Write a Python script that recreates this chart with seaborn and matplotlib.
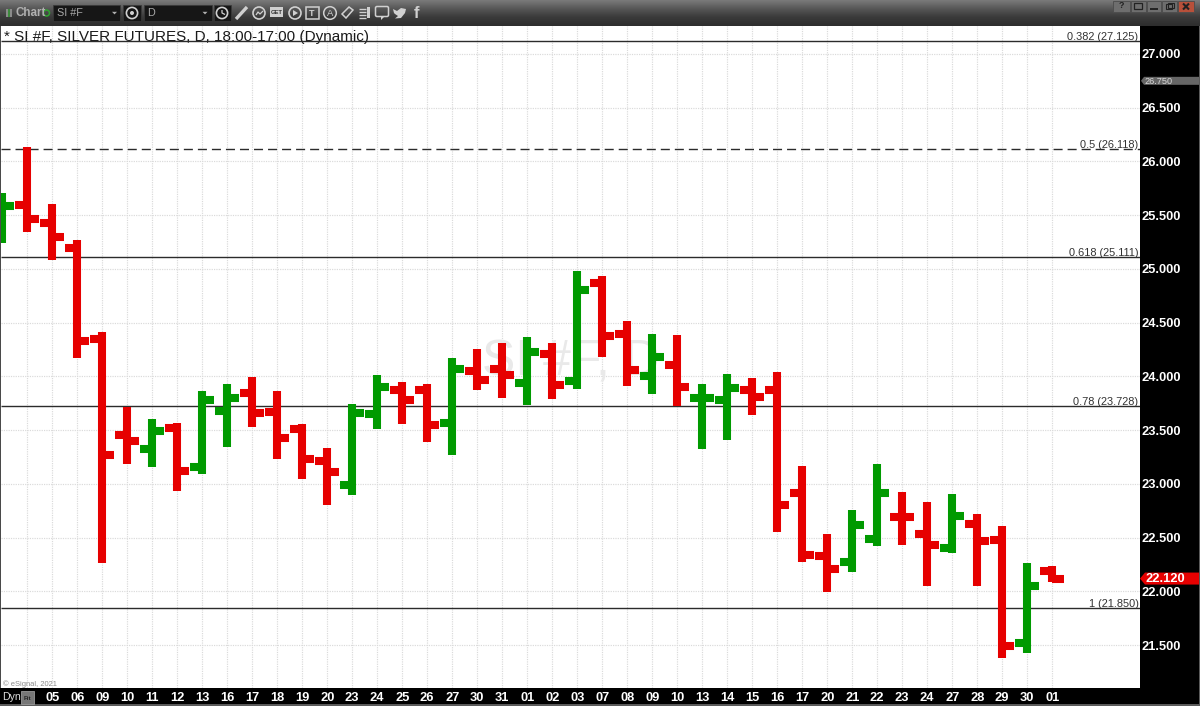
import matplotlib
matplotlib.use("Agg")
import matplotlib.pyplot as plt
from matplotlib.patches import Rectangle, Circle, Polygon, FancyBboxPatch
import numpy as np
import pandas as pd
import seaborn as sns

# daily bars, first two sit left of the first date label
opens = [25.502, 25.595, 25.428, 25.195, 24.349, 23.455, 23.325, 23.521, 23.158, 23.679, 23.846,
         23.669, 23.511, 23.214, 22.990, 23.651, 23.874, 23.874, 23.567, 24.051, 24.069, 23.939,
         24.209, 23.958, 24.869, 24.395, 24.004, 24.107, 23.800, 23.781, 23.874, 23.874, 22.916,
         22.330, 22.274, 22.488, 22.693, 22.535, 22.404, 22.628, 22.479, 21.521, 22.190]
highs = [25.707, 26.135, 25.604, 25.269, 24.414, 23.716, 23.604, 23.567, 23.865, 23.930, 23.995,
         23.865, 23.558, 23.335, 23.744, 24.014, 23.948, 23.930, 24.172, 24.255, 24.311, 24.367,
         24.311, 24.981, 24.935, 24.516, 24.395, 24.386, 23.930, 24.023, 23.986, 24.042, 23.167,
         22.535, 22.758, 23.186, 22.925, 22.832, 22.907, 22.721, 22.609, 22.265, 22.237]
lows = [25.242, 25.344, 25.083, 24.172, 22.265, 23.186, 23.158, 22.935, 23.093, 23.344, 23.530,
        23.232, 23.046, 22.804, 22.897, 23.511, 23.558, 23.390, 23.269, 23.874, 23.800, 23.735,
        23.790, 23.883, 24.181, 23.911, 23.837, 23.725, 23.325, 23.409, 23.642, 22.553, 22.274,
        21.995, 22.181, 22.423, 22.432, 22.051, 22.358, 22.051, 21.381, 21.428, 22.088]
closes = [25.586, 25.465, 25.297, 24.330, 23.269, 23.400, 23.493, 23.121, 23.781, 23.800, 23.660,
          23.428, 23.232, 23.111, 23.660, 23.902, 23.781, 23.548, 24.069, 23.967, 24.014, 24.228,
          23.921, 24.804, 24.376, 24.060, 24.181, 23.902, 23.800, 23.893, 23.809, 22.804, 22.339,
          22.209, 22.618, 22.916, 22.693, 22.432, 22.702, 22.469, 21.493, 22.051, 22.120]
bar_colors = list("grrrrrgrgg" "rrrrgg" "rrgrrgrgrrgr" "ggrrrrg" "grrgrrg" "r")
day_labels = ["", "05", "06", "09", "10", "11", "12", "13", "16", "17", "18", "19", "20", "23", "24",
              "25", "26", "27", "30", "31", "01", "02", "03", "07", "08", "09", "10", "13", "14",
              "15", "16", "17", "20", "21", "22", "23", "24", "27", "28", "29", "30", "01"]

price_ticks = [21.5, 22.0, 22.5, 23.0, 23.5, 24.0, 24.5, 25.0, 25.5, 26.0, 26.5, 27.0]
fib_ratios = ["0.382", "0.5", "0.618", "0.78", "1"]
fib_levels = [27.125, 26.118, 25.111, 23.728, 21.850]
fib_styles = ["-", (0, (6.5, 3.6)), "-", "-", "-"]
last_price = 22.120
alert_price = 26.750

W, H = 1200, 706
RED = "#e60000"
GREEN = "#009a00"

sns.set_style("white")
plt.rcParams["font.family"] = ["Liberation Sans", "DejaVu Sans"]
plt.rcParams["lines.solid_capstyle"] = "butt"

fig = plt.figure(figsize=(W / 100, H / 100), dpi=100, facecolor="black")
ax = fig.add_axes([1 / W, (H - 688) / H, 1139 / W, 662 / H], facecolor="white")


def to_px(v):
    return H - ax.transData.transform((0, v))[1]


# every bar = stem + open tick + close tick, one table for lineplot
rows = []
for i in range(len(opens)):
    rows += [(f"{i}h", i, highs[i], bar_colors[i]), (f"{i}h", i, lows[i], bar_colors[i])]
    rows += [(f"{i}o", i - 0.47, opens[i], bar_colors[i]), (f"{i}o", i, opens[i], bar_colors[i])]
    rows += [(f"{i}c", i, closes[i], bar_colors[i]), (f"{i}c", i + 0.47, closes[i], bar_colors[i])]
df = pd.DataFrame(rows, columns=["seg", "x", "price", "col"])

ax.set_axisbelow(True)
sns.lineplot(data=df, x="x", y="price", hue="col", units="seg", estimator=None, sort=False,
             palette={"r": RED, "g": GREEN}, linewidth=5.8, legend=False, ax=ax, zorder=4)

ax.set_xlim(-0.048, 45.512)
ax.set_ylim(21.102, 27.260)
ax.set_xlabel("")
ax.set_ylabel("")
for s in ax.spines.values():
    s.set_visible(False)

ax.set_xticks(range(1, 43))
ax.set_xticklabels(day_labels)
ax.yaxis.tick_right()
ax.set_yticks(price_ticks)
ax.set_yticklabels([f"{p:.3f}" for p in price_ticks])
ax.tick_params(axis="both", length=0, colors="white", labelsize=9.3)
ax.tick_params(axis="x", pad=3.2)
ax.tick_params(axis="y", pad=1.0)
for lab in ax.get_xticklabels() + ax.get_yticklabels():
    lab.set_fontweight("bold")
ax.grid(True, color="#dadada", linewidth=0.85, linestyle=(0, (1, 1)))

# fib levels
for ratio, level, style in zip(fib_ratios, fib_levels, fib_styles):
    ax.axhline(level, color="#2b2b2b", linewidth=1.0, linestyle=style, zorder=3)
    ax.annotate(f"{ratio} ({level:.3f})", xy=(1, level), xycoords=("axes fraction", "data"),
                xytext=(-1, -1), textcoords="offset points", ha="right", va="bottom",
                fontsize=7.9, color="#333333", zorder=5)

ax.text(0.500, 0.492, "SI #F, D", transform=ax.transAxes, ha="center", va="center",
        fontsize=36, color="#e9e9e9", zorder=1)
ax.text(3 / 1139, 0.9935, "* SI #F, SILVER FUTURES, D, 18:00-17:00 (Dynamic)", transform=ax.transAxes,
        ha="left", va="top", fontsize=11, color="#1a1a1a", zorder=2)
ax.text(2 / 1139, 4 / 662, "\u00a9 eSignal, 2021", transform=ax.transAxes, ha="left", va="center",
        fontsize=5.4, color="#8a8a8a")

# window chrome, drawn in pixels on top of everything
ui = fig.add_axes([0, 0, 1, 1], facecolor="none")
ui.set_axis_off()
grad = np.linspace(0, 1, 26).reshape(-1, 1)
ui.imshow(grad, extent=(0, W, 26, 0), aspect="auto", cmap=matplotlib.colors.LinearSegmentedColormap.from_list(
    "bar", ["#787878", "#565656", "#3a3a3a", "#2e2e2e"]), zorder=1)
ui.set_xlim(0, W)
ui.set_ylim(H, 0)
ui.add_patch(Rectangle((0, 26), 1.2, 662, color="#4a4a4a", lw=0))
ui.add_patch(Rectangle((0, 704), W, 2, color="#5a5a5a", lw=0))
ui.add_patch(Rectangle((1199, 26), 1, H - 26, color="#5a5a5a", lw=0))

# price flags
py = to_px(alert_price)
ui.add_patch(Polygon([(1141, py), (1144, py - 4), (1199, py - 4), (1199, py + 4), (1144, py + 4)], color="#666666", lw=0))
ui.text(1144.5, py + 0.3, f"{alert_price:.3f}", color="#d8d8d8", fontsize=6.6, va="center", ha="left")
py = to_px(last_price)
ui.add_patch(Polygon([(1140, py), (1145, py - 6), (1199, py - 6), (1199, py + 6), (1145, py + 6)], color=RED, lw=0))
ui.text(1146, py + 0.2, f"{last_price:.3f}", color="white", fontsize=9.3, fontweight="bold", va="center", ha="left")

# bottom left corner
ui.text(2, 697, "Dyn", color="#dddddd", fontsize=7.6, va="center", ha="left")
ui.add_patch(Rectangle((21, 691), 13, 13, fc="#777777", ec="#999999", lw=0.6))
ui.text(27.5, 698, "Fit", color="#222222", fontsize=4.5, fontweight="bold", va="center", ha="center")

# toolbar
ICON = "#d0d0d0"
ui.add_patch(Rectangle((6, 9), 6, 8, color="#8a8a8a", lw=0))
ui.add_patch(Rectangle((8, 9), 2, 8, color="#3d8a3d", lw=0))
ui.text(15, 13, "Chart", color="#b0b0b0", fontsize=8.4, fontweight="bold", va="center", ha="left")
ui.add_patch(Circle((46.5, 13), 3, fc="none", ec="#2fa52f", lw=1.1))
for x0, x1 in [(53, 120), (123, 141), (144, 212), (214, 231)]:
    ui.add_patch(Rectangle((x0, 5), x1 - x0, 16, fc="#161616", ec="#3a3a3a", lw=0.5))
ui.text(57, 13, "SI #F", color="#a8a8a8", fontsize=7.8, va="center", ha="left")
ui.text(147, 13, "D", color="#a8a8a8", fontsize=7.8, va="center", ha="left")
for tx in [114.5, 205]:
    ui.add_patch(Polygon([(tx - 2.5, 11.8), (tx + 2.5, 11.8), (tx, 14.4)], color="#b0b0b0", lw=0))
for cx in [132, 222]:
    ui.add_patch(Circle((cx, 13), 5.6, fc="none", ec=ICON, lw=1.2))
ui.add_patch(Circle((132, 13), 2, fc=ICON, lw=0))
ui.plot([222, 222, 225], [10, 13, 14.5], color=ICON, lw=0.9)
ui.plot([236, 247], [19, 7], color=ICON, lw=2.4)
ui.add_patch(Circle((259, 13), 6, fc="none", ec=ICON, lw=1.2))
ui.plot([256, 258, 260, 263], [15, 12, 14, 11], color=ICON, lw=0.9)
ui.add_patch(Rectangle((270, 7), 13, 10, fc=ICON, lw=0))
ui.text(276.5, 12, "GET", color="#333333", fontsize=4.2, fontweight="bold", va="center", ha="center")
ui.add_patch(Circle((295, 13), 6, fc="none", ec=ICON, lw=1.2))
ui.add_patch(Polygon([(293, 10), (293, 16), (298, 13)], color=ICON, lw=0))
ui.add_patch(Rectangle((306, 7), 13, 12, fc="none", ec=ICON, lw=1.1))
ui.text(312, 13, "T", color=ICON, fontsize=6.5, fontweight="bold", va="center", ha="center")
ui.add_patch(Circle((330, 13), 6.3, fc="none", ec=ICON, lw=1.1))
ui.text(330, 13, "A", color=ICON, fontsize=6.8, va="center", ha="center")
ui.add_patch(Polygon([(342, 14), (349, 7), (353, 10), (346, 18)], fc="none", ec=ICON, lw=1.1))
for yy in [9, 12, 15, 18]:
    ui.plot([359, 366], [yy, yy], color=ICON, lw=1.0)
ui.add_patch(Rectangle((367, 7), 3, 11, color=ICON, lw=0))
ui.add_patch(FancyBboxPatch((377, 8), 10, 7, boxstyle="round,pad=1.5", fc="none", ec=ICON, lw=1.1))
ui.add_patch(Polygon([(381, 16), (385, 16), (381, 20)], color=ICON, lw=0))
ui.add_patch(Polygon([(393, 9), (397, 11), (401, 8), (406, 9), (405, 13), (401, 18), (395, 18.5), (398, 16),
                      (395, 14), (394, 13)], color=ICON, lw=0))
ui.text(416.5, 13, "f", color=ICON, fontsize=12, fontweight="bold", va="center", ha="center")

# window buttons
for x0, x1 in [(1113, 1130), (1131, 1146), (1147, 1161), (1162, 1177)]:
    ui.add_patch(Rectangle((x0, 1), x1 - x0, 11, fc="#6e6e6e", ec="#4c4c4c", lw=0.6))
ui.add_patch(Rectangle((1178, 1), 16, 11, fc="#b8503a", ec="#4c4c4c", lw=0.6))
ui.text(1121.5, 6, "?", color="#222222", fontsize=6.5, fontweight="bold", va="center", ha="center")
ui.add_patch(Rectangle((1134, 3), 8, 6, fc="none", ec="#222222", lw=0.9))
ui.plot([1150, 1158], [9, 9], color="#222222", lw=1.4)
ui.add_patch(Rectangle((1166, 4), 6, 5, fc="none", ec="#222222", lw=0.8))
ui.add_patch(Rectangle((1168, 2.5), 6, 5, fc="none", ec="#222222", lw=0.8))
ui.plot([1183, 1189], [3.5, 9.5], color="#222222", lw=1.5)
ui.plot([1183, 1189], [9.5, 3.5], color="#222222", lw=1.5)

fig.savefig("out.png", dpi=100, facecolor="black")
